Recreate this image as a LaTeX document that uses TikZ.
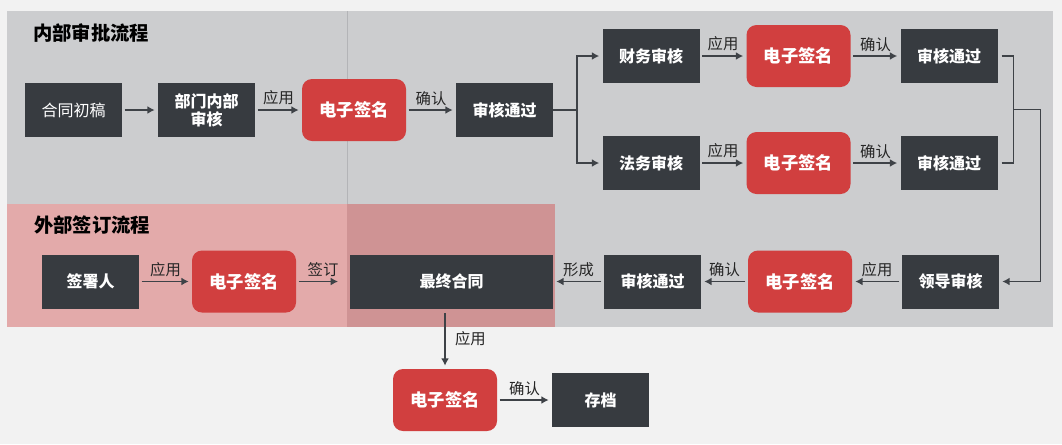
\documentclass[tikz,border=0pt]{standalone}
\usepackage{fontspec}
\setmainfont{Noto Sans CJK SC}
\usetikzlibrary{arrows.meta,positioning,calc}

\definecolor{pagebg}{HTML}{F2F2F2}
\definecolor{panelgray}{HTML}{CCCDCF}
\definecolor{panelpink}{HTML}{E3AAAA}
\definecolor{overlappink}{HTML}{CF9394}
\definecolor{divider}{HTML}{B3B4B7}
\definecolor{boxdark}{HTML}{373B40}
\definecolor{signred}{HTML}{D13F3F}
\definecolor{linegray}{HTML}{3E4247}

\begin{document}
\begin{tikzpicture}[x=0.75pt, y=-0.75pt,
  box/.style={fill=boxdark, text=white, align=center, minimum width=72.75pt, minimum height=40.5pt, inner sep=1pt, outer sep=0pt, font=\bfseries\fontsize{12}{13.5}\selectfont},
  sign/.style={fill=signred, rounded corners=7.5pt, text=white, minimum width=78pt, minimum height=46.5pt, outer sep=0pt, font=\bfseries\fontsize{13}{15}\selectfont},
  lbl/.style={text=black!85, inner sep=1pt, font=\fontsize{11.5}{13}\selectfont},
  title/.style={anchor=west, inner sep=0pt, font=\bfseries\fontsize{14.5}{16}\selectfont},
  arr/.style={-{Latex[length=5.5pt, width=6pt]}, line width=1.1pt, draw=linegray, shorten <=2pt, shorten >=2.5pt},
  link/.style={line width=1.1pt, draw=linegray}
]

% panels
\fill[pagebg] (0,0) rectangle (1062,444);
\fill[panelgray] (7,11) rectangle (1053,327);
\fill[panelpink] (7,204) rectangle (555,327);
\fill[overlappink] (347,204) rectangle (555,327);
\draw[divider, line width=0.75pt] (347,11) -- (347,204);

\node[title] (inner) at (33,33) {内部审批流程};
\node[title] (outer) at (34,225) {外部签订流程};

% internal approval
\node[box] (draft) at (73.5,110) {\mdseries 合同初稿};
\node[box, right=27pt of draft] (dept) {部门内部\\审核};
\node[sign, right=35.25pt of dept] (sign1) {电子签名};
\node[box, right=37.5pt of sign1] (pass1) {审核通过};
\draw[arr] (draft) -- (dept);
\draw[arr] (dept) -- node[lbl, above=2pt] {应用} (sign1);
\draw[arr] (sign1) -- node[lbl, above=2pt] {确认} (pass1);

\node[box] (fin) at (651,56) {财务审核};
\node[sign, right=35.25pt of fin] (sign2) {电子签名};
\node[box, right=37.5pt of sign2] (pass2) {审核通过};
\node[box] (law) at (651,163) {法务审核};
\node[sign, right=35.25pt of law] (sign3) {电子签名};
\node[box, right=37.5pt of sign3] (pass3) {审核通过};

\coordinate (split) at ($(pass1.east)+(24,0)$);
\draw[link] (pass1) -- (split);
\draw[arr, shorten <=0pt] (split) |- (fin);
\draw[arr, shorten <=0pt] (split) |- (law);

\draw[arr] (fin) -- node[lbl, above=2pt] {应用} (sign2);
\draw[arr] (sign2) -- node[lbl, above=2pt] {确认} (pass2);
\draw[arr] (law) -- node[lbl, above=2pt] {应用} (sign3);
\draw[arr] (sign3) -- node[lbl, above=2pt] {确认} (pass3);

% leader review
\node[box] (lead) at (950.5,281.5) {领导审核};
\node[sign, left=37.5pt of lead] (sign4) {电子签名};
\node[box, left=35.25pt of sign4] (pass4) {审核通过};
\node[box, left=38.25pt of pass4, minimum width=152.25pt] (final) {最终合同};

\coordinate (join) at ($(pass2.east)!0.5!(pass3.east)+(16,0)$);
\coordinate (turn) at ($(join)+(27,0)$);
\draw[link, shorten <=3pt] (pass2.east) -| (join);
\draw[link, shorten <=3pt] (pass3.east) -| (join);
\draw[arr, shorten <=0pt] (join) -- (turn) |- (lead);

\draw[arr] (lead) -- node[lbl, above=2pt] {应用} (sign4);
\draw[arr] (sign4) -- node[lbl, above=2pt] {确认} (pass4);
\draw[arr] (pass4) -- node[lbl, above=2pt] {形成} (final);

% external signing
\node[sign, left=40.5pt of final] (sign5) {电子签名};
\node[box, left=39.75pt of sign5] (signer) {签署人};
\draw[arr] (signer) -- node[lbl, above=2pt] {应用} (sign5);
\draw[arr, shorten >=9pt] (sign5) -- node[lbl, above=2pt] {签订} (final);

% archive
\node[sign] (sign6) at (445,400) {电子签名};
\node[box, right=41.25pt of sign6] (archive) {存档};
\draw[arr, shorten <=3.5pt] (final.south -| sign6.north) -- node[lbl, right=6pt] {应用} (sign6.north);
\draw[arr] (sign6) -- node[lbl, above=2pt] {确认} (archive);

\end{tikzpicture}
\end{document}
